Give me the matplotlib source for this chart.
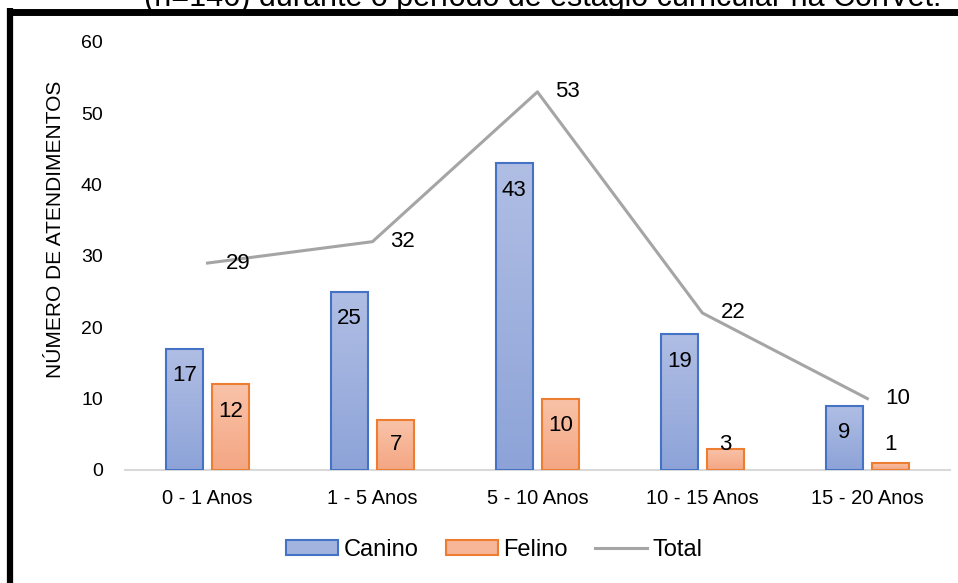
import matplotlib
matplotlib.use('Agg')
import matplotlib.pyplot as plt
from matplotlib.lines import Line2D
import numpy as np

plt.rcParams['font.family'] = ['Liberation Sans', 'DejaVu Sans']

faixas = ['0 - 1 Anos', '1 - 5 Anos', '5 - 10 Anos', '10 - 15 Anos', '15 - 20 Anos']
canino = [17, 25, 43, 19, 9]
felino = [12, 7, 10, 3, 1]
total = [29, 32, 53, 22, 10]

fig = plt.figure(figsize=(9.58, 5.83), dpi=100)
ax = fig.add_axes([0.1305, 0.194, 0.861, 0.734])

x = np.arange(len(faixas))
w = 0.225
off = 0.14


def gradient_bars(ax, xs, vals, top_c, bot_c, edge):
    grad = np.linspace(0, 1, 256).reshape(-1, 1)
    cmap = matplotlib.colors.LinearSegmentedColormap.from_list('g', [bot_c, top_c])
    bars = ax.bar(xs, vals, w, color='none', edgecolor=edge, linewidth=1.5, zorder=3)
    for b in bars:
        bx, by = b.get_x(), b.get_y()
        bw, bh = b.get_width(), b.get_height()
        im = ax.imshow(grad, cmap=cmap, aspect='auto', origin='lower',
                       extent=[bx, bx + bw, by, by + bh], zorder=2)
        im.set_clip_path(b)
    return bars


gradient_bars(ax, x - off, canino, '#b0bee4', '#8da3d8', '#4472c4')
gradient_bars(ax, x + off, felino, '#f9c3a9', '#f4a683', '#ed7d31')

ax.plot(x, total, color='#a5a5a5', linewidth=2.2, zorder=4)

# rótulos de dados
for xi, v in zip(x - off, canino):
    ax.text(xi, max(v - 3.8, 3.5), str(v), ha='center', va='center', fontsize=16, zorder=5)
for xi, v in zip(x + off, felino):
    ax.text(xi, max(v - 3.8, 3.5), str(v), ha='center', va='center', fontsize=16, zorder=5)
for xi, v in zip(x, total):
    ax.annotate(str(v), (xi, v), xytext=(18, 0), textcoords='offset pixels',
                ha='left', va='center', fontsize=16, zorder=5)

ax.set_xlim(-0.5, len(faixas) - 0.5)
ax.set_ylim(0, 60)
ax.set_yticks(range(0, 61, 10))
ax.set_xticks(x)
ax.set_xticklabels(faixas)
ax.tick_params(axis='x', length=0, labelsize=14.5, pad=14)
ax.tick_params(axis='y', length=0, labelsize=14, pad=16)
for s in ['top', 'right', 'left']:
    ax.spines[s].set_visible(False)
ax.spines['bottom'].set_color('#d9d9d9')
ax.spines['bottom'].set_linewidth(1.5)
ax.text(-0.084, 0.563, 'NÚMERO DE ATENDIMENTOS', transform=ax.transAxes,
        rotation=90, ha='center', va='center', fontsize=15)
ax.patch.set_alpha(0)

handles = [
    matplotlib.patches.Patch(facecolor='#a3b3df', edgecolor='#4472c4', linewidth=1.5, label='Canino'),
    matplotlib.patches.Patch(facecolor='#f7b698', edgecolor='#ed7d31', linewidth=1.5, label='Felino'),
    Line2D([0], [0], color='#a5a5a5', linewidth=2.2, label='Total'),
]
fig.legend(handles=handles, loc='center', bbox_to_anchor=(0.516, 0.057), ncol=3,
           frameon=False, fontsize=17, handlelength=2.2, handleheight=0.55,
           handletextpad=0.25, columnspacing=1.15)

# moldura e título cortado
fig.add_artist(Line2D([0.0073, 1.0], [1 - 11.5 / 583, 1 - 11.5 / 583], color='black',
                      linewidth=5, transform=fig.transFigure, solid_capstyle='butt'))
fig.add_artist(Line2D([10 / 958, 10 / 958], [0, 1 - 8 / 583], color='black',
                      linewidth=4.5, transform=fig.transFigure, solid_capstyle='butt'))
fig.text(0.567, 1 - 6 / 583, '(n=146) durante o período de estágio curricular na ConVet.',
         ha='center', va='baseline', fontsize=22)

fig.savefig('out.png', dpi=100)
